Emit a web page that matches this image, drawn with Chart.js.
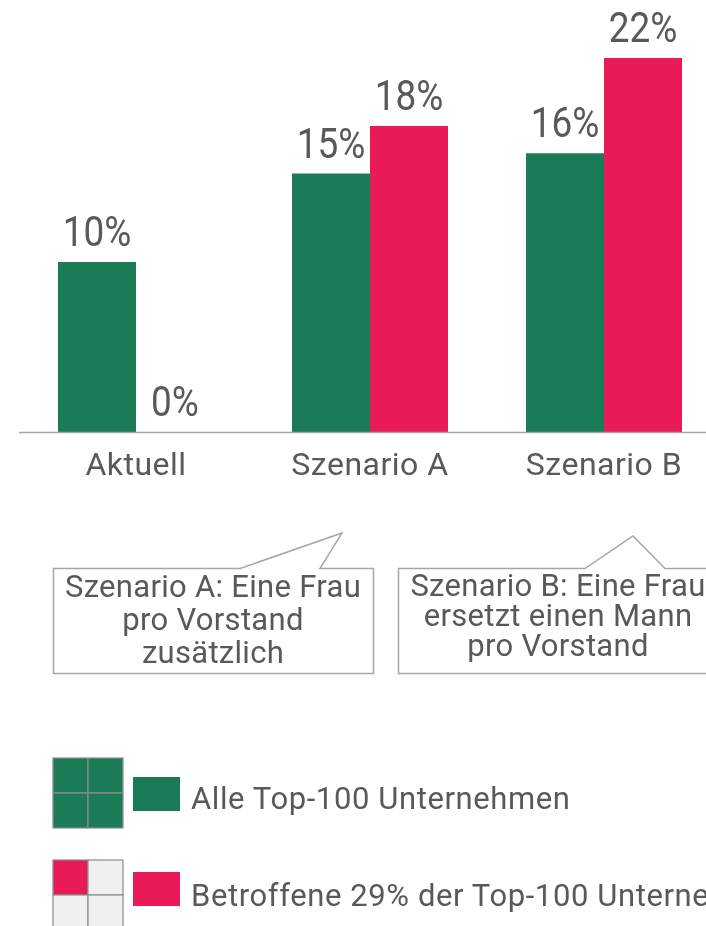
<!DOCTYPE html>
<html lang="de">
<head>
<meta charset="utf-8">
<title>Frauenanteil Vorstände</title>
<script src="https://cdn.jsdelivr.net/npm/chart.js@4/dist/chart.umd.min.js"></script>
<style>
  html, body { margin: 0; padding: 0; background: #fff; overflow: hidden; }
  body { width: 706px; height: 926px; position: relative; }
  #chart { position: absolute; left: 0; top: 0; }
  #overlay { position: absolute; left: 0; top: 0; }
</style>
</head>
<body>
<canvas id="chart" width="760" height="500"></canvas>
<svg id="overlay" width="706" height="926" xmlns="http://www.w3.org/2000/svg"></svg>
<script>
  const categories = ['Aktuell', 'Szenario A', 'Szenario B'];
  const seriesNames = ['Alle Top-100 Unternehmen', 'Betroffene 29% der Top-100 Unternehmen'];
  const alleValues = [10, 15.2, 16.4];
  const betroffeneValues = [0, 18, 22];
  const seriesColors = ['#1b7b56', '#e81b58'];
  const calloutA = ['Szenario A:  Eine Frau', 'pro Vorstand', 'zusätzlich'];
  const calloutB = ['Szenario B: Eine Frau', 'ersetzt einen Mann', 'pro Vorstand'];

  const textColor = '#595959';
  const lineColor = '#a6a6a6';

  // value labels, axis line and category names, all placed from the chart scales
  const labelPlugin = {
    id: 'labels',
    afterDatasetsDraw(chart) {
      const ctx = chart.ctx;
      const xScale = chart.scales.x;
      const yScale = chart.scales.y;
      const base = yScale.getPixelForValue(0);

      ctx.save();
      ctx.strokeStyle = lineColor;
      ctx.lineWidth = 1.5;
      ctx.beginPath();
      ctx.moveTo(chart.chartArea.left, base + 0.5);
      ctx.lineTo(chart.width, base + 0.5);
      ctx.stroke();

      ctx.fillStyle = textColor;
      ctx.textAlign = 'center';
      ctx.textBaseline = 'alphabetic';
      ctx.font = '400 42px Roboto';
      chart.data.datasets.forEach(function (ds, di) {
        const meta = chart.getDatasetMeta(di);
        meta.data.forEach(function (bar, i) {
          ctx.save();
          ctx.translate(bar.x, bar.y - 16);
          ctx.scale(0.88, 1);
          ctx.fillText(Math.round(ds.data[i]) + '%', 0, 0);
          ctx.restore();
        });
      });

      ctx.font = '400 32px Roboto';
      if ('letterSpacing' in ctx) ctx.letterSpacing = '0.5px';
      categories.forEach(function (c, i) {
        ctx.fillText(c, xScale.getPixelForValue(i), base + 43);
      });
      ctx.restore();
    }
  };

  new Chart(document.getElementById('chart'), {
    type: 'bar',
    data: {
      labels: categories,
      datasets: [
        { label: seriesNames[0], data: alleValues, backgroundColor: seriesColors[0] },
        { label: seriesNames[1], data: betroffeneValues, backgroundColor: seriesColors[1] },
      ],
    },
    options: {
      responsive: false,
      animation: false,
      devicePixelRatio: 1,
      layout: { padding: { left: 19, right: 39, top: 7, bottom: 68 } },
      datasets: { bar: { barPercentage: 1, categoryPercentage: 0.6667, borderWidth: 0 } },
      plugins: { legend: { display: false }, tooltip: { enabled: false } },
      scales: {
        x: { display: false },
        y: { display: false, min: 0, max: 25 },
      },
    },
    plugins: [labelPlugin],
  });

  // callouts and legend
  const svg = document.getElementById('overlay');
  const NS = 'http://www.w3.org/2000/svg';

  function add(tag, attrs, text) {
    const el = document.createElementNS(NS, tag);
    Object.keys(attrs).forEach(function (k) { el.setAttribute(k, attrs[k]); });
    if (text !== undefined) el.textContent = text;
    svg.appendChild(el);
    return el;
  }

  function callout(path, cx, lines, firstBase, step) {
    add('path', { d: path, fill: '#fff', stroke: lineColor, 'stroke-width': 1.5 });
    lines.forEach(function (t, i) {
      add('text', {
        x: cx, y: firstBase + i * step, 'text-anchor': 'middle',
        'font-family': 'Roboto', 'font-size': 31, 'letter-spacing': 0.3, fill: textColor,
      }, t);
    });
  }

  callout('M53.5,568.5 L240,568.5 L342,533 L320,568.5 L373.5,568.5 L373.5,673.5 L53.5,673.5 Z',
    213, calloutA, 597, 33);
  callout('M398.5,568.5 L585,568.5 L633,536 L665,568.5 L720,568.5 L720,673.5 L398.5,673.5 Z',
    558, calloutB, 596, 30);

  function legendGrid(x, y, filled, color) {
    for (let r = 0; r < 2; r++) {
      for (let c = 0; c < 2; c++) {
        const idx = r * 2 + c;
        add('rect', {
          x: x + c * 35, y: y + r * 35, width: 35, height: 35,
          fill: idx < filled ? color : '#f0f0f0', stroke: '#8c8c8c', 'stroke-width': 1.2,
        });
      }
    }
  }

  legendGrid(53, 758, 4, seriesColors[0]);
  add('rect', { x: 133, y: 777, width: 47, height: 34, fill: seriesColors[0] });
  add('text', { x: 191, y: 809, 'font-family': 'Roboto', 'font-size': 31, 'letter-spacing': 0.6, fill: textColor }, seriesNames[0]);

  legendGrid(53, 860, 1, seriesColors[1]);
  add('rect', { x: 133, y: 872, width: 47, height: 34, fill: seriesColors[1] });
  add('text', { x: 191, y: 906, 'font-family': 'Roboto', 'font-size': 31, 'letter-spacing': 0.6, fill: textColor }, seriesNames[1]);
</script>
</body>
</html>
